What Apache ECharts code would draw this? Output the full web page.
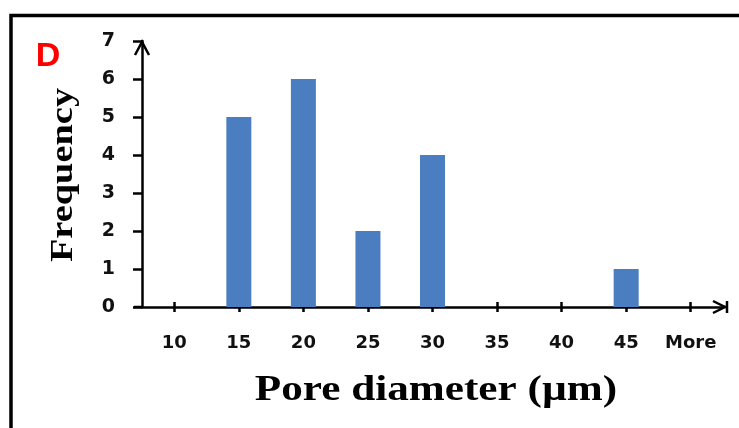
<!DOCTYPE html>
<html>
<head>
<meta charset="utf-8">
<script src="https://cdn.jsdelivr.net/npm/echarts@6/dist/echarts.min.js"></script>
<style>
html,body{margin:0;padding:0;background:#fff;}
#chart{width:739px;height:428px;}
</style>
</head>
<body>
<div id="chart"></div>
<script>
const categories = ['10', '15', '20', '25', '30', '35', '40', '45', 'More'];
const frequency = [0, 5, 6, 2, 4, 0, 0, 1, 0];
const yMin = 0, yMax = 7, yInterval = 1;
const xTitle = 'Pore diameter (µm)';
const yTitle = 'Frequency';
const panelLabel = 'D';

const chart = echarts.init(document.getElementById('chart'), null, {renderer: 'canvas'});
const gridBox = {left: 142, right: 16, top: 41, bottom: 121};
const labelFont = 'DejaVu Sans';

chart.setOption({
  animation: false,
  backgroundColor: '#ffffff',
  grid: [
    Object.assign({}, gridBox),
    Object.assign({}, gridBox)
  ],
  xAxis: [
    {
      type: 'category', gridIndex: 0, data: categories, boundaryGap: true,
      axisLine: {show: true, lineStyle: {color: '#000', width: 2.5}},
      axisTick: {show: true, interval: 0, alignWithLabel: true, length: 5, lineStyle: {color: '#000', width: 2.5}},
      axisLabel: {show: true, interval: 0, hideOverlap: false, margin: 27, color: '#111', fontFamily: labelFont, fontWeight: 'bold', fontSize: 18}
    },
    {
      type: 'category', gridIndex: 1, data: categories, boundaryGap: true,
      axisLine: {show: false},
      axisTick: {show: true, interval: 0, inside: true, alignWithLabel: true, length: 5, lineStyle: {color: '#000', width: 2.5}},
      axisLabel: {show: false, interval: 0}
    }
  ],
  yAxis: [
    {
      type: 'value', gridIndex: 0, min: yMin, max: yMax, interval: yInterval,
      splitLine: {show: false},
      axisLine: {show: true, lineStyle: {color: '#000', width: 2.5}},
      axisTick: {show: true, length: 9, lineStyle: {color: '#000', width: 2.5}},
      axisLabel: {show: true, margin: 27, color: '#111', fontFamily: labelFont, fontWeight: 'bold', fontSize: 19}
    },
    {
      type: 'value', gridIndex: 1, min: yMin, max: yMax, interval: yInterval, show: false
    }
  ],
  series: [{
    type: 'bar', xAxisIndex: 0, yAxisIndex: 0, data: frequency, barWidth: 25,
    itemStyle: {color: '#4a7ec0'}
  }]
});

function decorate() {
  const rect = chart.getModel().getComponent('grid', 0).coordinateSystem.getRect();
  const top7 = chart.convertToPixel({yAxisIndex: 0}, yMax);
  const x0 = rect.x, y0 = rect.y + rect.height, xEnd = rect.x + rect.width;
  const stroke = {stroke: '#000', lineWidth: 2.5, fill: null};
  chart.setOption({
    graphic: [
      {type: 'rect', shape: {x: 11, y: 15.5, width: 900, height: 600}, style: {stroke: '#000', lineWidth: 3.5, fill: null}, z: 10},
      {type: 'line', shape: {x1: x0 - 8, y1: y0, x2: x0, y2: y0}, style: stroke, z: 10},
      {type: 'line', shape: {x1: xEnd - 1, y1: y0, x2: xEnd + 5, y2: y0}, style: stroke, z: 10},
      {type: 'polyline', shape: {points: [[xEnd - 10, y0 - 6], [xEnd + 2, y0], [xEnd - 10, y0 + 6]]}, style: stroke, z: 10},
      {type: 'line', shape: {x1: xEnd + 4, y1: y0 - 6, x2: xEnd + 4, y2: y0 + 6}, style: stroke, z: 10},
      {type: 'polyline', shape: {points: [[x0 - 7, top7 + 14], [x0, top7 + 1], [x0 + 7, top7 + 14]]}, style: stroke, z: 10},
      {type: 'text', x: 48, y: 57, style: {text: panelLabel, fill: '#ff0000', font: 'bold 34px "Liberation Sans", Arial, sans-serif', textAlign: 'center', textVerticalAlign: 'middle'}, z: 10},
      {type: 'text', x: 436, y: 391, scaleX: 1.2, style: {text: xTitle, fill: '#000', font: 'bold 36px "Liberation Serif", "Times New Roman", serif', textAlign: 'center', textVerticalAlign: 'middle'}, z: 10},
      {type: 'text', x: 64, y: 175, rotation: Math.PI / 2, scaleX: 1.2, style: {text: yTitle, fill: '#000', font: 'bold 32px "Liberation Serif", "Times New Roman", serif', textAlign: 'center', textVerticalAlign: 'middle'}, z: 10}
    ]
  });
}
decorate();
</script>
</body>
</html>
